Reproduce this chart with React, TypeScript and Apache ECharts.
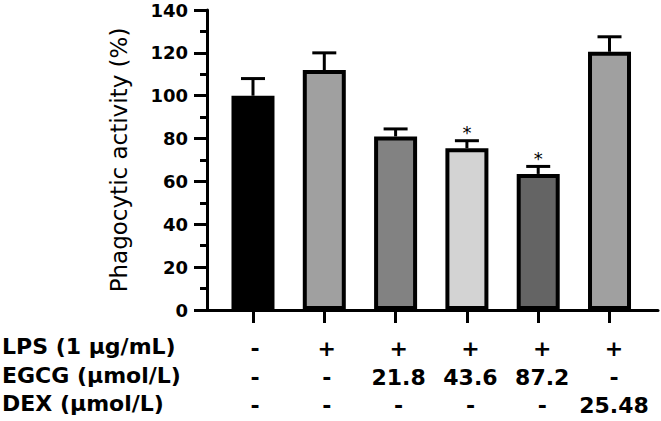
import React, { useEffect, useRef } from "react";
import * as echarts from "echarts";

const groups = [0, 1, 2, 3, 4, 5];
const means = [100, 112, 81, 75.5, 63.5, 120.5];
const sds = [8, 8, 3.5, 3.5, 3.5, 7];
const significant = [false, false, false, true, true, false];
const barColors = ["#000000", "#a0a0a0", "#828282", "#d3d3d3", "#646464", "#a0a0a0"];
const rowTitles = ["LPS (1 μg/mL)", "EGCG (μmol/L)", "DEX (μmol/L)"];
const lpsRow = ["-", "+", "+", "+", "+", "+"];
const egcgRow = ["-", "-", "21.8", "43.6", "87.2", "-"];
const dexRow = ["-", "-", "-", "-", "-", "25.48"];
const yTicks = { min: 0, max: 140, interval: 20 };

const FONT = "DejaVu Sans";

export default function App() {
  const ref = useRef<HTMLDivElement>(null);
  useEffect(() => {
    if (!ref.current) return;
    const chart = echarts.init(ref.current, null, { renderer: "svg" });
    const tableAxis = (labels: string[], margin: number) => ({
      type: "value",
      min: -0.669,
      max: 5.612,
      position: "bottom",
      axisLine: { show: false, onZero: false },
      axisTick: { show: false },
      splitLine: { show: false },
      axisLabel: {
        show: true,
        customValues: groups,
        margin,
        verticalAlign: "middle",
        formatter: (v: number) => labels[Math.round(v)] ?? "",
        color: "#000",
        fontFamily: FONT,
        fontWeight: "bold",
        fontSize: 22,
      },
    });
    const option: any = {
      animation: false,
      backgroundColor: "#ffffff",
      grid: { left: 207, right: 3, top: 10, bottom: 111, containLabel: false },
      xAxis: [
        {
          type: "value",
          min: -0.645,
          max: 5.68,
          position: "bottom",
          axisLine: { show: true, onZero: false, lineStyle: { color: "#000", width: 3 } },
          axisTick: {
            show: true,
            customValues: groups,
            length: 13,
            lineStyle: { color: "#000", width: 3 },
          },
          axisLabel: { show: false },
          splitLine: { show: false },
        },
        tableAxis(lpsRow, 38),
        tableAxis(egcgRow, 67),
        tableAxis(dexRow, 95),
      ],
      yAxis: {
        type: "value",
        min: yTicks.min,
        max: yTicks.max,
        interval: yTicks.interval,
        position: "left",
        name: "Phagocytic activity (%)",
        nameLocation: "middle",
        nameGap: 77,
        nameRotate: 90,
        nameTextStyle: { color: "#000", fontFamily: FONT, fontSize: 23, fontWeight: "normal" },
        axisLine: { show: true, onZero: false, lineStyle: { color: "#000", width: 3 } },
        axisTick: { show: true, length: 13, lineStyle: { color: "#000", width: 3 } },
        minorTick: { show: true, splitNumber: 2, length: 7, lineStyle: { color: "#000", width: 3 } },
        axisLabel: {
          margin: 19,
          color: "#000",
          fontFamily: FONT,
          fontWeight: "bold",
          fontSize: 18,
        },
        splitLine: { show: false },
      },
      series: [
        {
          type: "bar",
          xAxisIndex: 0,
          barWidth: 43,
          data: groups.map((g, i) => ({
            value: [g, means[i]],
            itemStyle: { color: barColors[i], borderColor: "#000", borderWidth: 4 },
          })),
        },
        {
          type: "custom",
          xAxisIndex: 0,
          z: 3,
          itemStyle: { color: "#000" },
          data: groups.map((g, i) => [g, means[i], sds[i], significant[i] ? 1 : 0]),
          renderItem: (params: any, api: any) => {
            const x = api.value(0);
            const m = api.value(1);
            const s = api.value(2);
            const sig = api.value(3);
            const p0 = api.coord([x, m]);
            const p1 = api.coord([x, m + s]);
            const style = { stroke: "#000", lineWidth: 3 };
            const children: any[] = [
              { type: "line", shape: { x1: p0[0], y1: p0[1], x2: p1[0], y2: p1[1] }, style },
              { type: "line", shape: { x1: p1[0] - 12, y1: p1[1], x2: p1[0] + 12, y2: p1[1] }, style },
            ];
            if (sig) {
              children.push({
                type: "text",
                x: p1[0],
                y: p1[1] - 8,
                style: {
                  text: "*",
                  fill: "#000000",
                  stroke: "none",
                  fontFamily: FONT,
                  fontSize: 18,
                  fontWeight: "normal",
                  align: "center",
                  verticalAlign: "middle",
                },
              });
            }
            return { type: "group", children };
          },
        },
      ],
      graphic: rowTitles.map((t, i) => ({
        type: "text",
        left: 2,
        top: [348, 377, 405][i] - 13,
        style: { text: t, fill: "#000", font: `bold 22px ${FONT}` },
      })),
    };
    chart.setOption(option);
    return () => chart.dispose();
  }, []);
  return (
    <div
      ref={ref}
      style={{ position: "fixed", left: 0, top: 0, width: 661, height: 421, background: "#fff" }}
    />
  );
}
